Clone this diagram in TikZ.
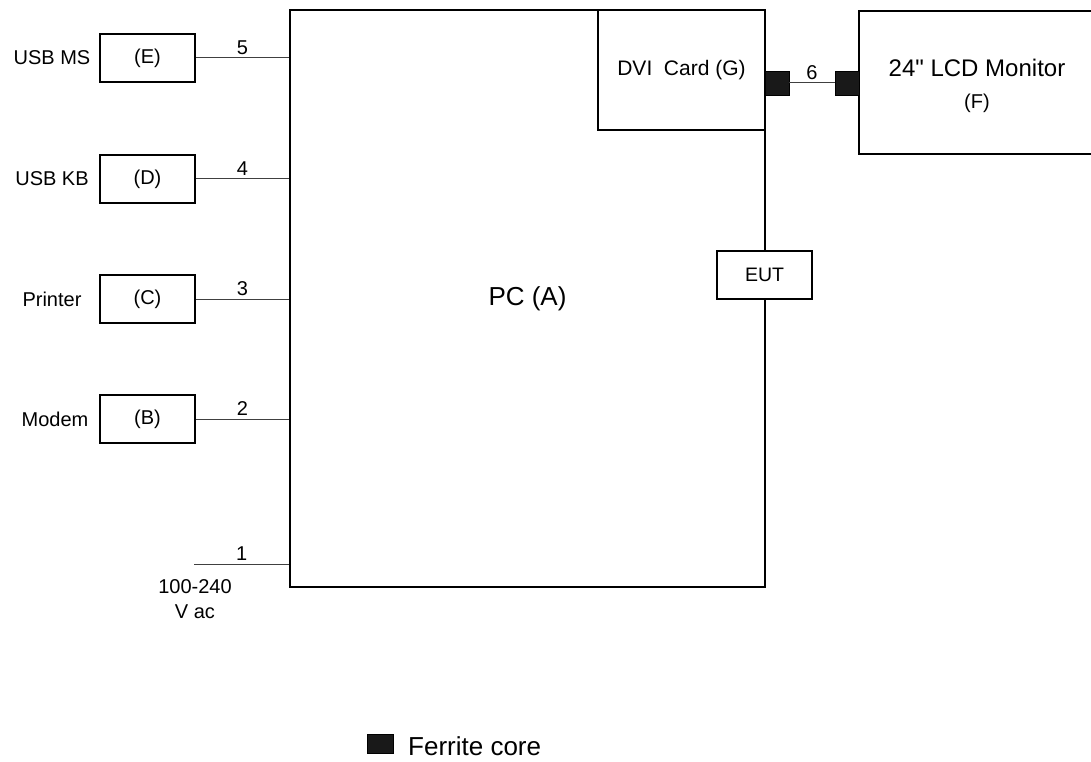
\documentclass[tikz,border=0pt]{standalone}
\usepackage{fontspec}
\setmainfont{Liberation Sans}
\font\rawq="Liberation Sans" at 24pt
\begin{document}
\begin{tikzpicture}[x=1pt,y=-1pt,
  box/.style={draw=black,line width=1.3pt,rectangle,inner sep=0pt,fill=white},
  conn/.style={draw=black!75,line width=1pt},
  core/.style={draw=black,fill=black!90,rectangle,inner sep=0pt,minimum width=24pt,minimum height=24pt},
  lbl/.style={font=\fontsize{20}{24}\selectfont,inner sep=0pt},
  num/.style={font=\fontsize{20}{24}\selectfont,inner sep=3pt,above}]
\useasboundingbox (0,0) rectangle (1091,762);
% PC
\node[box,minimum width=475pt,minimum height=577pt,font=\fontsize{26}{30}\selectfont] (PC) at (527.5,298.5) {PC (A)};
% DVI card
\node[box,minimum width=167pt,minimum height=120pt,font=\fontsize{21}{25}\selectfont] (G) at (681.5,70) {DVI\ \ Card (G)};
% EUT
\node[box,minimum width=95pt,minimum height=48pt,font=\fontsize{19.5}{23}\selectfont] (EUT) at (764.5,275) {EUT};
% peripherals
\node[box,minimum width=95pt,minimum height=48pt,lbl] (E) at (147.5,58) {(E)};
\node[box,minimum width=95pt,minimum height=48pt,lbl] (D) at (147.5,179) {(D)};
\node[box,minimum width=95pt,minimum height=48pt,lbl] (C) at (147.5,299) {(C)};
\node[box,minimum width=95pt,minimum height=48pt,lbl] (B) at (147.5,419) {(B)};
\node[lbl] (Ename) at (52,58) {USB MS};
\node[lbl] (Dname) at (52,179) {USB KB};
\node[lbl] (Cname) at (52,299) {Printer};
\node[lbl] (Bname) at (55,419) {Modem};
% connectors to PC
\draw[conn] (E.east) -- node[num]{5} (E.east -| PC.west);
\draw[conn] (D.east) -- node[num]{4} (D.east -| PC.west);
\draw[conn] (C.east) -- node[num]{3} (C.east -| PC.west);
\draw[conn] (B.east) -- node[num]{2} (B.east -| PC.west);
\coordinate (ac) at (194,564);
\draw[conn] (ac) -- node[num]{1} (ac -| PC.west);
\node[lbl,align=center,font=\fontsize{20}{25}\selectfont] (acl) at (195,599) {100-240\\V ac};
% monitor (open on the right)
\coordinate (m1) at (1092,11);
\coordinate (m2) at (859,11);
\coordinate (m3) at (859,154);
\coordinate (m4) at (1092,154);
\draw[line width=1.3pt] (m1) -- (m2) -- (m3) -- (m4);
\node[lbl,font=\fontsize{24}{28}\selectfont] (Fname) at (977,68) {24{\rawq\char34} LCD Monitor};
\node[lbl] (Fid) at (977,103) {(F)};
% ferrite cores and cable 6
\node[core] (fc1) at (777,83) {};
\node[core] (fc2) at (847,83) {};
\draw[conn] (fc1) -- node[num]{6} (fc2);
% legend
\node[core,minimum width=26pt,minimum height=19pt] (lg) at (380,743.5) {};
\node[lbl,anchor=west,font=\fontsize{26}{30}\selectfont] (lgt) at (408,746) {Ferrite core};
\end{tikzpicture}
\end{document}
